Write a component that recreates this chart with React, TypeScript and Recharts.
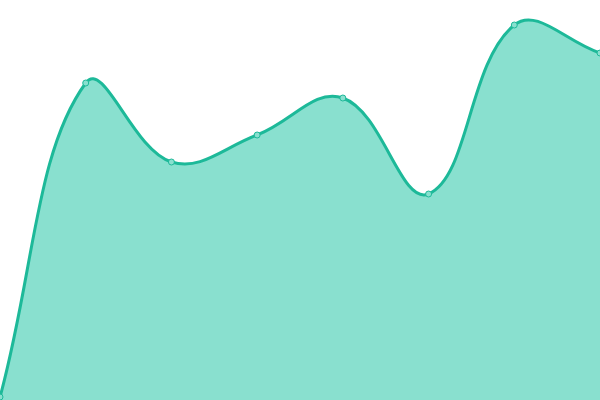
import React from "react";
import { AreaChart, Area, XAxis, YAxis } from "recharts";

const categories = ["A", "B", "C", "D", "E", "F", "G", "H"];
const values = [3, 317, 238, 265, 302, 206, 375, 347];

const data = categories.map((c, i) => ({ name: c, value: values[i] }));

// Cardinal-like spline (tension 0.4) with distance-weighted control points
function splineCurve(tension: number) {
  return (context: any) => {
    let pts: [number, number][] = [];
    let line: number = NaN;
    return {
      areaStart() {
        line = 0;
      },
      areaEnd() {
        line = NaN;
      },
      lineStart() {
        pts = [];
      },
      lineEnd() {
        const n = pts.length;
        if (n) {
          if (line) context.lineTo(pts[0][0], pts[0][1]);
          else context.moveTo(pts[0][0], pts[0][1]);
          const cpPrev: [number, number][] = [];
          const cpNext: [number, number][] = [];
          for (let i = 0; i < n; i++) {
            const cur = pts[i];
            const prev = pts[i - 1] || cur;
            const next = pts[i + 1] || cur;
            const d01 = Math.hypot(cur[0] - prev[0], cur[1] - prev[1]);
            const d12 = Math.hypot(next[0] - cur[0], next[1] - cur[1]);
            let s01 = d01 / (d01 + d12);
            let s12 = d12 / (d01 + d12);
            if (!isFinite(s01)) s01 = 0;
            if (!isFinite(s12)) s12 = 0;
            const fa = tension * s01;
            const fb = tension * s12;
            cpPrev.push([cur[0] - fa * (next[0] - prev[0]), cur[1] - fa * (next[1] - prev[1])]);
            cpNext.push([cur[0] + fb * (next[0] - prev[0]), cur[1] + fb * (next[1] - prev[1])]);
          }
          for (let i = 1; i < n; i++) {
            context.bezierCurveTo(
              cpNext[i - 1][0],
              cpNext[i - 1][1],
              cpPrev[i][0],
              cpPrev[i][1],
              pts[i][0],
              pts[i][1]
            );
          }
        }
        if (line || (line !== 0 && n === 1)) context.closePath();
        line = 1 - line;
      },
      point(x: number, y: number) {
        pts.push([+x, +y]);
      },
    };
  };
}

const curve = splineCurve(0.4);

export default function App() {
  return (
    <div style={{ width: 600, height: 400 }}>
      <style>{`body{margin:0}`}</style>
      <AreaChart width={600} height={400} data={data} margin={{ top: 0, right: 0, bottom: 0, left: 0 }}>
        <XAxis dataKey="name" hide padding={{ left: 0, right: 0 }} />
        <YAxis hide domain={[0, 400]} />
        <Area
          type={curve as any}
          dataKey="value"
          stroke="#1db999"
          strokeWidth={3}
          fill="#89e0cf"
          fillOpacity={1}
          dot={{ r: 3, fill: "#89e0cf", stroke: "#1db999", strokeWidth: 1 }}
          activeDot={false}
          isAnimationActive={false}
        />
      </AreaChart>
    </div>
  );
}
